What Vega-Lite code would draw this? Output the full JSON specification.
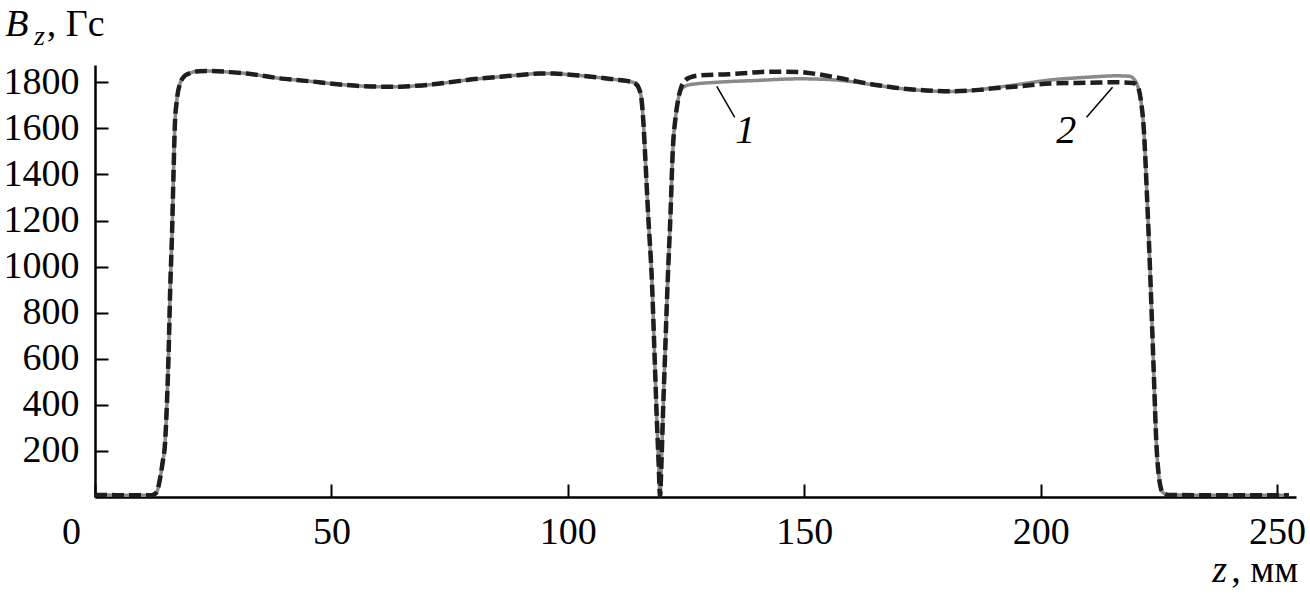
{
  "$schema": "https://vega.github.io/schema/vega-lite/v6.json",
  "width": 1201,
  "height": 432,
  "autosize": {"type": "none"},
  "padding": {"left": 95, "top": 65, "right": 14, "bottom": 110},
  "background": "white",
  "config": {
    "view": {"stroke": null},
    "axis": {
      "domainColor": "black",
      "domainWidth": 2.5,
      "tickColor": "black",
      "tickWidth": 2,
      "tickSize": -13,
      "labelFont": "Liberation Serif",
      "labelFontSize": 38,
      "labelColor": "black",
      "grid": false,
      "title": null
    }
  },
  "datasets": {
    "curves": [
      {"series": "1", "z": 0, "B": 9}, {"series": "1", "z": 6, "B": 8}, {"series": "1", "z": 12, "B": 8},
      {"series": "1", "z": 12.8, "B": 15}, {"series": "1", "z": 13.3, "B": 35}, {"series": "1", "z": 13.7, "B": 74},
      {"series": "1", "z": 14.3, "B": 150}, {"series": "1", "z": 14.8, "B": 230}, {"series": "1", "z": 15.2, "B": 400},
      {"series": "1", "z": 15.6, "B": 650}, {"series": "1", "z": 15.9, "B": 900}, {"series": "1", "z": 16.3, "B": 1150},
      {"series": "1", "z": 16.6, "B": 1400}, {"series": "1", "z": 16.9, "B": 1620}, {"series": "1", "z": 17.3, "B": 1720},
      {"series": "1", "z": 18.0, "B": 1795}, {"series": "1", "z": 19.0, "B": 1828}, {"series": "1", "z": 20.1, "B": 1840},
      {"series": "1", "z": 22, "B": 1848}, {"series": "1", "z": 24.9, "B": 1849}, {"series": "1", "z": 28, "B": 1845},
      {"series": "1", "z": 32.1, "B": 1838}, {"series": "1", "z": 35.5, "B": 1828}, {"series": "1", "z": 39.1, "B": 1817},
      {"series": "1", "z": 42.5, "B": 1810}, {"series": "1", "z": 46.1, "B": 1803}, {"series": "1", "z": 49.5, "B": 1795},
      {"series": "1", "z": 53.3, "B": 1788}, {"series": "1", "z": 57, "B": 1783}, {"series": "1", "z": 60.3, "B": 1781},
      {"series": "1", "z": 64.5, "B": 1781}, {"series": "1", "z": 68, "B": 1785}, {"series": "1", "z": 71.5, "B": 1791},
      {"series": "1", "z": 75, "B": 1800}, {"series": "1", "z": 78.7, "B": 1810}, {"series": "1", "z": 82, "B": 1817},
      {"series": "1", "z": 85.7, "B": 1824}, {"series": "1", "z": 90, "B": 1832}, {"series": "1", "z": 94.1, "B": 1838},
      {"series": "1", "z": 97, "B": 1838}, {"series": "1", "z": 99.8, "B": 1834}, {"series": "1", "z": 103, "B": 1828},
      {"series": "1", "z": 106.8, "B": 1820}, {"series": "1", "z": 110, "B": 1812}, {"series": "1", "z": 112.5, "B": 1806},
      {"series": "1", "z": 114.2, "B": 1796}, {"series": "1", "z": 115, "B": 1775}, {"series": "1", "z": 115.6, "B": 1722},
      {"series": "1", "z": 116.0, "B": 1620}, {"series": "1", "z": 116.3, "B": 1505}, {"series": "1", "z": 117.0, "B": 1220},
      {"series": "1", "z": 117.8, "B": 928}, {"series": "1", "z": 118.3, "B": 640}, {"series": "1", "z": 118.8, "B": 347},
      {"series": "1", "z": 119.2, "B": 150}, {"series": "1", "z": 119.5, "B": 5}, {"series": "1", "z": 119.8, "B": 150},
      {"series": "1", "z": 120.1, "B": 347}, {"series": "1", "z": 120.6, "B": 640}, {"series": "1", "z": 121.1, "B": 928},
      {"series": "1", "z": 121.7, "B": 1220}, {"series": "1", "z": 122.2, "B": 1505}, {"series": "1", "z": 122.8, "B": 1650},
      {"series": "1", "z": 123.3, "B": 1722}, {"series": "1", "z": 124.0, "B": 1768}, {"series": "1", "z": 124.7, "B": 1782},
      {"series": "1", "z": 126, "B": 1790}, {"series": "1", "z": 131.5, "B": 1800}, {"series": "1", "z": 140, "B": 1808},
      {"series": "1", "z": 149, "B": 1815}, {"series": "1", "z": 155, "B": 1812}, {"series": "1", "z": 160, "B": 1803},
      {"series": "1", "z": 163.3, "B": 1793}, {"series": "1", "z": 167, "B": 1782}, {"series": "1", "z": 170.3, "B": 1773},
      {"series": "1", "z": 174, "B": 1766}, {"series": "1", "z": 177.2, "B": 1762}, {"series": "1", "z": 181, "B": 1760},
      {"series": "1", "z": 184.4, "B": 1763}, {"series": "1", "z": 187, "B": 1768}, {"series": "1", "z": 190, "B": 1776},
      {"series": "1", "z": 195, "B": 1790}, {"series": "1", "z": 202, "B": 1810}, {"series": "1", "z": 210, "B": 1822},
      {"series": "1", "z": 216, "B": 1828}, {"series": "1", "z": 218.8, "B": 1826}, {"series": "1", "z": 219.8, "B": 1812},
      {"series": "1", "z": 220.5, "B": 1785}, {"series": "1", "z": 221.2, "B": 1720}, {"series": "1", "z": 221.8, "B": 1600},
      {"series": "1", "z": 222.5, "B": 1300}, {"series": "1", "z": 223.2, "B": 950}, {"series": "1", "z": 223.9, "B": 550},
      {"series": "1", "z": 224.5, "B": 220}, {"series": "1", "z": 225.0, "B": 90}, {"series": "1", "z": 225.8, "B": 20},
      {"series": "1", "z": 227, "B": 9}, {"series": "1", "z": 235, "B": 8}, {"series": "1", "z": 245, "B": 8},
      {"series": "1", "z": 252.5, "B": 8},

      {"series": "2", "z": 0, "B": 9}, {"series": "2", "z": 6, "B": 8}, {"series": "2", "z": 12, "B": 8},
      {"series": "2", "z": 12.8, "B": 15}, {"series": "2", "z": 13.3, "B": 35}, {"series": "2", "z": 13.7, "B": 74},
      {"series": "2", "z": 14.3, "B": 150}, {"series": "2", "z": 14.8, "B": 230}, {"series": "2", "z": 15.2, "B": 400},
      {"series": "2", "z": 15.6, "B": 650}, {"series": "2", "z": 15.9, "B": 900}, {"series": "2", "z": 16.3, "B": 1150},
      {"series": "2", "z": 16.6, "B": 1400}, {"series": "2", "z": 16.9, "B": 1620}, {"series": "2", "z": 17.3, "B": 1720},
      {"series": "2", "z": 18.0, "B": 1795}, {"series": "2", "z": 19.0, "B": 1828}, {"series": "2", "z": 20.1, "B": 1840},
      {"series": "2", "z": 22, "B": 1848}, {"series": "2", "z": 24.9, "B": 1849}, {"series": "2", "z": 28, "B": 1845},
      {"series": "2", "z": 32.1, "B": 1838}, {"series": "2", "z": 35.5, "B": 1828}, {"series": "2", "z": 39.1, "B": 1817},
      {"series": "2", "z": 42.5, "B": 1810}, {"series": "2", "z": 46.1, "B": 1803}, {"series": "2", "z": 49.5, "B": 1795},
      {"series": "2", "z": 53.3, "B": 1788}, {"series": "2", "z": 57, "B": 1783}, {"series": "2", "z": 60.3, "B": 1781},
      {"series": "2", "z": 64.5, "B": 1781}, {"series": "2", "z": 68, "B": 1785}, {"series": "2", "z": 71.5, "B": 1791},
      {"series": "2", "z": 75, "B": 1800}, {"series": "2", "z": 78.7, "B": 1810}, {"series": "2", "z": 82, "B": 1817},
      {"series": "2", "z": 85.7, "B": 1824}, {"series": "2", "z": 90, "B": 1832}, {"series": "2", "z": 94.1, "B": 1838},
      {"series": "2", "z": 97, "B": 1838}, {"series": "2", "z": 99.8, "B": 1834}, {"series": "2", "z": 103, "B": 1828},
      {"series": "2", "z": 106.8, "B": 1820}, {"series": "2", "z": 110, "B": 1812}, {"series": "2", "z": 112.5, "B": 1806},
      {"series": "2", "z": 114.2, "B": 1796}, {"series": "2", "z": 115, "B": 1775}, {"series": "2", "z": 115.6, "B": 1722},
      {"series": "2", "z": 116.0, "B": 1620}, {"series": "2", "z": 116.3, "B": 1505}, {"series": "2", "z": 117.0, "B": 1220},
      {"series": "2", "z": 117.8, "B": 928}, {"series": "2", "z": 118.3, "B": 640}, {"series": "2", "z": 118.8, "B": 347},
      {"series": "2", "z": 119.2, "B": 150}, {"series": "2", "z": 119.5, "B": 5}, {"series": "2", "z": 119.8, "B": 150},
      {"series": "2", "z": 120.1, "B": 347}, {"series": "2", "z": 120.6, "B": 640}, {"series": "2", "z": 121.1, "B": 928},
      {"series": "2", "z": 121.7, "B": 1220}, {"series": "2", "z": 122.2, "B": 1505}, {"series": "2", "z": 122.8, "B": 1650},
      {"series": "2", "z": 123.3, "B": 1722}, {"series": "2", "z": 124.0, "B": 1780}, {"series": "2", "z": 124.7, "B": 1805},
      {"series": "2", "z": 125.8, "B": 1821}, {"series": "2", "z": 127.8, "B": 1830}, {"series": "2", "z": 134, "B": 1835},
      {"series": "2", "z": 138, "B": 1840}, {"series": "2", "z": 141, "B": 1845}, {"series": "2", "z": 145, "B": 1846},
      {"series": "2", "z": 149, "B": 1845}, {"series": "2", "z": 152.5, "B": 1836}, {"series": "2", "z": 156, "B": 1824},
      {"series": "2", "z": 160, "B": 1808}, {"series": "2", "z": 163.3, "B": 1795}, {"series": "2", "z": 167, "B": 1783},
      {"series": "2", "z": 170.3, "B": 1774}, {"series": "2", "z": 174, "B": 1767}, {"series": "2", "z": 177.2, "B": 1763},
      {"series": "2", "z": 181, "B": 1761}, {"series": "2", "z": 184.4, "B": 1763}, {"series": "2", "z": 187, "B": 1767},
      {"series": "2", "z": 190, "B": 1774}, {"series": "2", "z": 195, "B": 1782}, {"series": "2", "z": 202, "B": 1795},
      {"series": "2", "z": 210, "B": 1798}, {"series": "2", "z": 216, "B": 1800}, {"series": "2", "z": 219.5, "B": 1797},
      {"series": "2", "z": 220.5, "B": 1782}, {"series": "2", "z": 221.2, "B": 1720}, {"series": "2", "z": 221.8, "B": 1600},
      {"series": "2", "z": 222.5, "B": 1300}, {"series": "2", "z": 223.2, "B": 950}, {"series": "2", "z": 223.9, "B": 550},
      {"series": "2", "z": 224.5, "B": 220}, {"series": "2", "z": 225.0, "B": 90}, {"series": "2", "z": 225.8, "B": 20},
      {"series": "2", "z": 227, "B": 9}, {"series": "2", "z": 235, "B": 8}, {"series": "2", "z": 245, "B": 8},
      {"series": "2", "z": 252.5, "B": 8}
    ],
    "leaders": [
      {"z": 131.5, "B": 1782, "z2": 135.3, "B2": 1648},
      {"z": 215.2, "B": 1778, "z2": 209.7, "B2": 1648}
    ],
    "curveLabels": [
      {"text": "1", "z": 137.5, "B": 1590},
      {"text": "2", "z": 205.4, "B": 1590}
    ],
    "titleItalic": [
      {"text": "B", "z": -19.0, "B": 2001},
      {"text": "z", "z": 236.3, "B": -368}
    ],
    "titleSub": [
      {"text": "z", "z": -12.9, "B": 1962}
    ],
    "titleRegular": [
      {"text": ", Гс", "z": -10.2, "B": 2001},
      {"text": ", мм", "z": 240.3, "B": -368}
    ]
  },
  "layer": [
    {
      "data": {"name": "curves"},
      "mark": {"type": "line", "interpolate": "monotone", "strokeCap": "butt", "strokeJoin": "round"},
      "encoding": {
        "x": {
          "field": "z", "type": "quantitative",
          "scale": {"domain": [0, 254], "nice": false, "zero": false},
          "axis": {
            "values": [0, 50, 100, 150, 200, 250],
            "format": "d",
            "labelPadding": 29,
            "labelOffset": {"condition": {"test": "datum.value == 0", "value": -24}, "value": 0},
            "labelFlush": false,
            "labelOverlap": false
          }
        },
        "y": {
          "field": "B", "type": "quantitative",
          "scale": {"domain": [0, 1875], "nice": false},
          "axis": {
            "values": [200, 400, 600, 800, 1000, 1200, 1400, 1600, 1800],
            "format": "d",
            "labelPadding": 29,
            "labelFlush": false,
            "labelOverlap": false
          }
        },
        "color": {
          "field": "series", "type": "nominal",
          "scale": {"domain": ["1", "2"], "range": ["#8a8a8a", "#1e1e1e"]},
          "legend": null
        },
        "strokeDash": {
          "field": "series", "type": "nominal",
          "scale": {"domain": ["1", "2"], "range": [[1, 0], [12, 5]]},
          "legend": null
        },
        "strokeWidth": {
          "field": "series", "type": "nominal",
          "scale": {"domain": ["1", "2"], "range": [3.5, 4.5]},
          "legend": null
        }
      }
    },
    {
      "data": {"name": "leaders"},
      "mark": {"type": "rule", "color": "black", "strokeWidth": 1.5},
      "encoding": {
        "x": {"field": "z", "type": "quantitative"},
        "y": {"field": "B", "type": "quantitative"},
        "x2": {"field": "z2"},
        "y2": {"field": "B2"}
      }
    },
    {
      "data": {"name": "curveLabels"},
      "mark": {"type": "text", "font": "Liberation Serif", "fontStyle": "italic", "fontSize": 40, "color": "black", "align": "center", "baseline": "middle"},
      "encoding": {
        "x": {"field": "z", "type": "quantitative"},
        "y": {"field": "B", "type": "quantitative"},
        "text": {"field": "text"}
      }
    },
    {
      "data": {"name": "titleItalic"},
      "mark": {"type": "text", "font": "Liberation Serif", "fontStyle": "italic", "fontSize": 38, "color": "black", "align": "left", "baseline": "alphabetic"},
      "encoding": {
        "x": {"field": "z", "type": "quantitative"},
        "y": {"field": "B", "type": "quantitative"},
        "text": {"field": "text"}
      }
    },
    {
      "data": {"name": "titleSub"},
      "mark": {"type": "text", "font": "Liberation Serif", "fontStyle": "italic", "fontSize": 28, "color": "black", "align": "left", "baseline": "alphabetic"},
      "encoding": {
        "x": {"field": "z", "type": "quantitative"},
        "y": {"field": "B", "type": "quantitative"},
        "text": {"field": "text"}
      }
    },
    {
      "data": {"name": "titleRegular"},
      "mark": {"type": "text", "font": "Liberation Serif", "fontSize": 38, "color": "black", "align": "left", "baseline": "alphabetic"},
      "encoding": {
        "x": {"field": "z", "type": "quantitative"},
        "y": {"field": "B", "type": "quantitative"},
        "text": {"field": "text"}
      }
    }
  ]
}
